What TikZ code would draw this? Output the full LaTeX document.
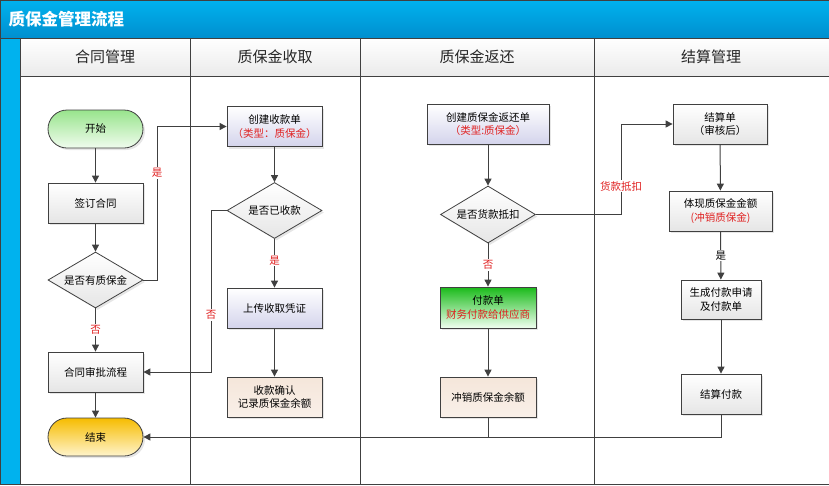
\documentclass[tikz,border=0pt]{standalone}
\usepackage{fontspec}
\setmainfont{Noto Sans CJK SC}
\usetikzlibrary{shapes.geometric,arrows.meta,shadows}
\definecolor{ln}{HTML}{404040}
\definecolor{tred}{HTML}{E02020}
\definecolor{ttlA}{HTML}{00B2EE}
\definecolor{ttlB}{HTML}{008FCF}
\definecolor{lav}{HTML}{D4D4EC}
\definecolor{peach}{HTML}{F5E6DA}
\definecolor{endA}{HTML}{F6BC00}
\definecolor{endB}{HTML}{FFF4CC}
\definecolor{startA}{HTML}{98E48C}
\definecolor{startB}{HTML}{F0FCEE}
\tikzset{
  base/.style = {
    draw=ln, line width=0.8pt, inner sep=0pt, align=center,
    font=\fontsize{10.5}{13.5}\selectfont,
    drop shadow={shadow xshift=2pt, shadow yshift=-2pt, opacity=0.2}
  },
  proc/.style = {base, rectangle, minimum width=95pt, minimum height=40pt,
    top color=white, bottom color=black!10},
  term/.style = {base, rectangle, rounded corners=19pt,
    minimum width=95pt, minimum height=38pt},
  dec/.style  = {base, diamond, aspect=1.7, minimum width=95pt, minimum height=56pt,
    top color=white, bottom color=black!10},
  lbl/.style  = {fill=white, inner sep=1pt, text=tred, font=\fontsize{10.5}{12}\selectfont},
  arr/.style  = {draw=ln, line width=1pt, -{Triangle[length=7pt,width=7pt]}},
  lane/.style = {draw=black!75, line width=0.8pt},
  head/.style = {font=\fontsize{15}{18}\selectfont, text=black!85}
}

\begin{document}
\begin{tikzpicture}[x=1pt,y=-1pt]
\useasboundingbox (0,0) rectangle (829,485);
% title bar and pool
\shade[top color=ttlA, bottom color=ttlB] (0,0) rectangle (829,38);
\fill[ttlA] (0,38) rectangle (20,485);
\node[anchor=west, text=white, font=\fontsize{16.5}{19}\selectfont\bfseries] (ttl) at (5,19) {质保金管理流程};
\shade[top color=white, bottom color=black!8] (20,38) rectangle (829,76);
\draw[lane] (0,0) rectangle (829,484.5);
\draw[lane] (0,38) -- (829,38);
\draw[lane] (20,38) -- (20,484.5);
\draw[lane] (20,76) -- (829,76);
\foreach \x in {190,360,594}
  \draw[lane] (\x,38) -- (\x,484.5);
\node[head] (h1) at (105,57) {合同管理};
\node[head] (h2) at (275,57) {质保金收取};
\node[head] (h3) at (477,57) {质保金返还};
\node[head] (h4) at (711,57) {结算管理};

% contract lane
\node[term, top color=startA, bottom color=startB] (start) at (95.5,129) {开始};
\node[proc] (sign) at (95.5,203) {签订合同};
\node[dec] (hasq) at (95.5,280) {是否有质保金};
\node[proc] (appr) at (95.5,372) {合同审批流程};
\node[term, top color=endA, bottom color=endB] (end) at (95.5,437) {结束};

% collection lane
\node[proc, bottom color=lav] (crtr) at (274.5,126.5) {创建收款单\\\textcolor{tred}{（类型：质保金）}};
\node[dec] (rcvd) at (274.5,210.5) {是否已收款};
\node[proc, bottom color=lav] (upld) at (274.5,308) {上传收取凭证};
\node[proc, top color=peach, bottom color=peach!60] (conf) at (274.5,397) {收款确认\\记录质保金余额};

% return lane
\node[proc, minimum width=122pt, bottom color=lav] (crtn) at (488,124) {创建质保金返还单\\\textcolor{tred}{（类型:质保金）}};
\node[dec, minimum height=57pt] (dedu) at (488,214.5) {是否货款抵扣};
\node[proc, minimum width=96pt, minimum height=41pt, top color=green!70!black!90, bottom color=green!6] (fkd) at (488,307.5) {付款单\\\textcolor{tred}{财务付款给供应商}};
\node[proc, minimum width=96pt, top color=peach, bottom color=peach!60] (wrof) at (488,397) {冲销质保金余额};

% settlement lane
\node[proc, minimum width=94pt] (stmt) at (720,124) {结算单\\（审核后）};
\node[proc, minimum width=103pt] (show) at (720.5,211) {体现质保金金额\\\textcolor{tred}{(冲销质保金)}};
\node[proc, minimum width=80pt, minimum height=39pt] (gen) at (721,299.5) {生成付款申请\\及付款单};
\node[proc, minimum width=80pt] (pay) at (721,394) {结算付款};

% bends
\coordinate (b1) at (157,126.5);
\coordinate (b2) at (211,372);
\coordinate (b3) at (721,437);
\coordinate (b4) at (621,124);

\draw[arr] (start) -- (sign);
\draw[arr] (sign) -- (hasq);
\draw[arr] (hasq) -- node[lbl] (no1) {否} (appr);
\draw[arr] (appr) -- (end);
\draw[arr] (hasq.east) -| (b1) -- (crtr.west);
\node[lbl] (yes1) at (157,173) {是};
\draw[arr] (crtr) -- (rcvd);
\draw[arr] (rcvd) -- node[lbl, pos=0.45] (yes2) {是} (upld);
\draw[arr] (upld) -- (conf);
\draw[arr] (rcvd.west) -| (b2) -- (appr.east);
\node[lbl] (no2) at (211,315) {否};
\draw[arr] (crtn) -- (dedu);
\draw[arr] (dedu) -- node[lbl] (no3) {否} (fkd);
\draw[arr] (fkd) -- (wrof);
\draw[arr] (dedu.east) -| (b4) -- (stmt.west);
\node[lbl] (ded) at (621,186) {货款抵扣};
\draw[arr] (stmt) -- (show);
\draw[arr] (show) -- node[lbl, text=black] (yes3) {是} (gen);
\draw[arr] (gen) -- (pay);
\draw[arr] (pay.south) -- (b3) -- (end.east);
\draw[draw=ln, line width=1pt] (wrof.south) -- (wrof.south |- b3);
\end{tikzpicture}
\end{document}
